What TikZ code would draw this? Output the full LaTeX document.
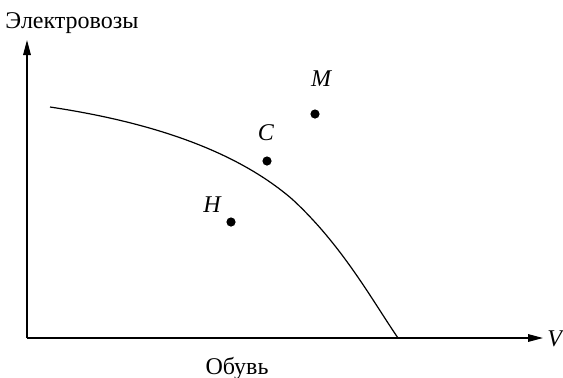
\documentclass[tikz,border=0pt]{standalone}
\usepackage{fontspec}
\setmainfont{Liberation Serif}
\usetikzlibrary{arrows.meta, positioning}

\begin{document}
\begin{tikzpicture}[
  x=0.5pt, y=-0.5pt,
  every node/.style={font=\fontsize{12}{14}\selectfont},
  axis/.style={line width=0.65pt, -{Triangle[length=7.5pt, width=3.8pt]}},
  curv/.style={line width=0.6pt},
  dot/.style={circle, fill, inner sep=0pt, minimum size=4.6pt},
  lab/.style={inner sep=1pt, font=\fontsize{12}{14}\selectfont\itshape}
]
\useasboundingbox (0,0) rectangle (563,377);

% axes
\coordinate (o)  at (27,338);
\coordinate (ye) at (27,40);
\coordinate (xe) at (543,338);
\draw[axis] (o) -- (ye);
\draw[axis] (o) -- (xe);
\node[anchor=west, inner sep=0pt] (vlab) at (547,339) {\itshape V};
\node[inner sep=0pt] (ylab) at (72,23) {Электровозы};
\node[inner sep=0pt] (xlab) at (237,368) {Обувь};

% curve
\coordinate (c0) at (50,107);
\coordinate (c1) at (292,199);
\coordinate (c2) at (398,338);
\draw[curv] (c0) .. controls (150,122) and (235,150) .. (c1)
            .. controls (342,245) and (372,300) .. (c2);

% points
\node[dot] (m) at (315,114) {};
\node[dot] (c) at (267,161) {};
\node[dot] (h) at (231,222) {};
\node[lab] (mlab) at (321,79)  {M};
\node[lab] (clab) at (266,133) {C};
\node[lab] (hlab) at (212,205) {H};
\end{tikzpicture}
\end{document}
